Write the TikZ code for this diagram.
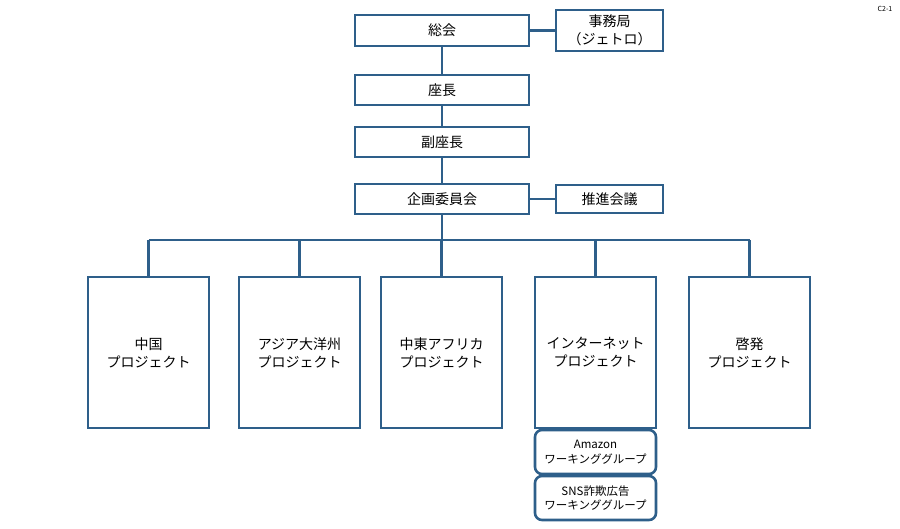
\documentclass[tikz,border=0pt]{standalone}
\usepackage{fontspec}
\setmainfont{Noto Sans CJK JP}
\begin{document}
\begin{tikzpicture}[x=1pt,y=-1pt]
  \tikzset{box/.style={draw=boxblue,line width=2.6pt,fill=white,inner sep=0pt,align=center,font=\fontsize{14}{18}\selectfont},
           wg/.style={box,rounded corners=7pt,font=\fontsize{11.5}{14.5}\selectfont},
           link/.style={draw=boxblue,line width=2.6pt}}
  \definecolor{boxblue}{HTML}{2E5F8A}
  \useasboundingbox (0,0) rectangle (900,529);
  \node at (885,9) {\fontsize{7}{8}\selectfont C2-1};
  \node [box,minimum width=174pt,minimum height=31pt] (soukai) at (442,30.5) {総会};
  \node [box,minimum width=107pt,minimum height=41pt] (jimu) at (609.5,30.5) {事務局\\（ジェトロ）};
  \node [box,minimum width=174pt,minimum height=30pt] (zacho) at (442,90) {座長};
  \node [box,minimum width=174pt,minimum height=30pt] (fuku) at (442,142) {副座長};
  \node [box,minimum width=174pt,minimum height=30pt] (kikaku) at (442,199) {企画委員会};
  \node [box,minimum width=107pt,minimum height=28pt] (suishin) at (609.5,199) {推進会議};
  \coordinate (busL) at (148.5,240);
  \coordinate (busR) at (749.5,240);
  \foreach \x/\name/\txt in {148.5/china/中国\\プロジェクト, 299.5/asia/アジア大洋州\\プロジェクト,
      441.5/mea/中東アフリカ\\プロジェクト, 595.5/net/インターネット\\プロジェクト, 749.5/kei/啓発\\プロジェクト}
    \node [box,minimum width=121pt,minimum height=151pt] (\name) at (\x,352.5) {\txt};
  \node [wg,minimum width=121pt,minimum height=44pt] (amazon) at (595.5,452) {Amazon\\ワーキンググループ};
  \node [wg,minimum width=121pt,minimum height=44pt] (sns) at (595.5,498) {SNS詐欺広告\\ワーキンググループ};
  \draw [link] (soukai) -- (jimu);
  \draw [link] (soukai) -- (zacho);
  \draw [link] (zacho) -- (fuku);
  \draw [link] (fuku) -- (kikaku);
  \draw [link] (kikaku) -- (suishin);
  \draw [link] (kikaku.south) -- (kikaku.south |- busL);
  \draw [link] (busL) -- (busR);
  \foreach \name in {china,asia,mea,net,kei}
    \draw [link] (\name.north) -- (\name.north |- busL);
\end{tikzpicture}
\end{document}
